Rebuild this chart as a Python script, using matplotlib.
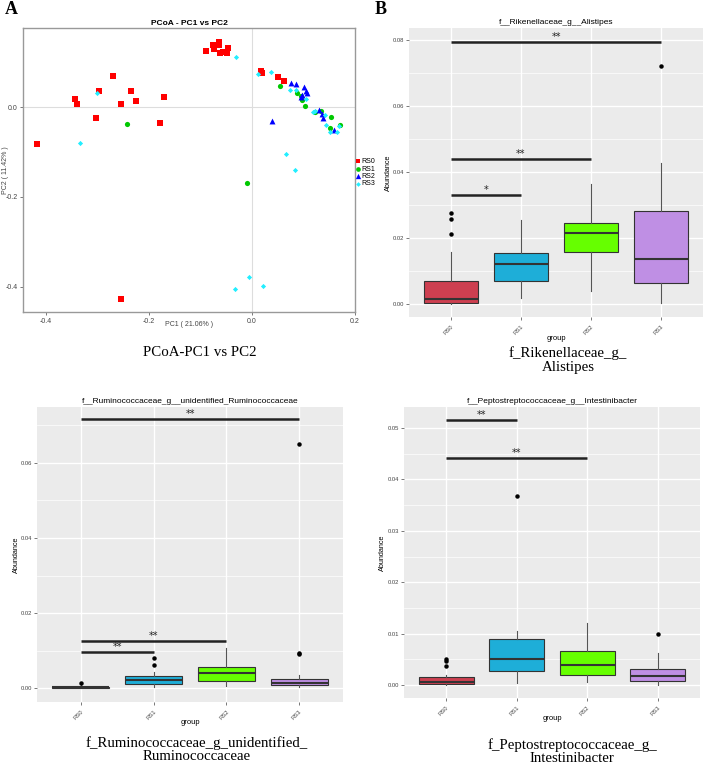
import matplotlib
matplotlib.use("Agg")
import matplotlib.pyplot as plt
import numpy as np

W, H = 708, 764

# ---------------- DATA ----------------
groups = ["RS0", "RS1", "RS2", "RS3"]

# PCoA coordinates (PC1, PC2)
rs0_pc1 = [-0.090, -0.076, -0.074, -0.065, -0.065, -0.063, -0.057, -0.049, -0.046,
           -0.271, -0.297, -0.344, -0.340, -0.254, -0.235, -0.226, -0.172, -0.304,
           -0.178, -0.417, -0.254, 0.017, 0.020, 0.051, 0.062]
rs0_pc2 = [0.124, 0.138, 0.129, 0.145, 0.138, 0.121, 0.123, 0.121, 0.132,
           0.070, 0.035, 0.017, 0.007, 0.007, 0.035, 0.014, 0.023, -0.024,
           -0.036, -0.082, -0.427, 0.081, 0.076, 0.067, 0.058]
rs1_pc1 = [-0.243, 0.055, -0.010, 0.088, 0.097, 0.103, 0.096, 0.123, 0.154, 0.152, 0.170, 0.134]
rs1_pc2 = [-0.038, 0.046, -0.170, 0.032, 0.016, 0.003, 0.025, -0.010, -0.022, -0.046, -0.039, -0.009]
rs2_pc1 = [0.075, 0.085, 0.101, 0.104, 0.106, 0.096, 0.039, 0.131, 0.136, 0.137, 0.159, 0.098]
rs2_pc2 = [0.054, 0.052, 0.044, 0.036, 0.031, 0.023, -0.030, -0.007, -0.016, -0.025, -0.050, 0.026]
rs3_pc1 = [-0.031, 0.012, 0.036, -0.302, -0.335, 0.074, 0.085, 0.104, 0.122, 0.142, 0.144,
           0.152, 0.165, 0.168, 0.065, 0.083, -0.005, -0.033, 0.022, 0.119]
rs3_pc2 = [0.112, 0.073, 0.078, 0.032, -0.081, 0.039, 0.039, 0.017, -0.008, -0.018, -0.040,
           -0.056, -0.056, -0.042, -0.104, -0.140, -0.378, -0.404, -0.398, -0.010]

# Box plot summaries: [whisker low, q1, median, q3, whisker high]
alistipes_box = [[0.0000, 0.0003, 0.0015, 0.0069, 0.0158],
                 [0.0018, 0.0070, 0.0120, 0.0154, 0.0255],
                 [0.0039, 0.0158, 0.0216, 0.0245, 0.0365],
                 [0.0003, 0.0064, 0.0137, 0.0281, 0.0426]]
alistipes_out = [[0.0212, 0.0258, 0.0277], [], [], [0.0722]]
alistipes_sig = [(1, 2, 0.0331, "*"), (1, 3, 0.0439, "**"), (1, 4, 0.0794, "**")]

rumino_box = [[0.0000, 0.00005, 0.0002, 0.0004, 0.0008],
              [0.0002, 0.0012, 0.0022, 0.0031, 0.0043],
              [0.0006, 0.0018, 0.0039, 0.0057, 0.0106],
              [0.0003, 0.0007, 0.0013, 0.0024, 0.0036]]
rumino_out = [[0.0013], [0.0061, 0.0081], [], [0.0090, 0.0093, 0.0650]]
rumino_sig = [(1, 2, 0.0097, "**"), (1, 3, 0.0126, "**"), (1, 4, 0.0716, "**")]

intest_box = [[0.0000, 0.0003, 0.0006, 0.0016, 0.0019],
              [0.0005, 0.0028, 0.0050, 0.0090, 0.0106],
              [0.0006, 0.0019, 0.0040, 0.0066, 0.0120],
              [0.0000, 0.0009, 0.0018, 0.0032, 0.0063]]
intest_out = [[0.0038, 0.0047, 0.0050], [0.0368], [], [0.0100]]
intest_sig = [(1, 2, 0.0515, "**"), (1, 3, 0.0441, "**")]

box_colors = ["#CD3F50", "#1EAED8", "#66FF00", "#BF8FE4"]


def rect(l, t, r, b):
    return [l / W, 1 - b / H, (r - l) / W, (b - t) / H]


fig = plt.figure(figsize=(W / 100, H / 100), dpi=100)
plt.rcParams["font.family"] = ["Liberation Sans", "DejaVu Sans"]

# ---------------- Panel A: PCoA ----------------
axA = fig.add_axes(rect(23, 28, 355, 312))
axA.axhline(0, color="#DDDDDD", lw=0.8, zorder=0)
axA.axvline(0, color="#DDDDDD", lw=0.8, zorder=0)
axA.scatter(rs0_pc1, rs0_pc2, marker="s", s=14, color="#FF0000", lw=0, label="RS0", zorder=3)
axA.scatter(rs1_pc1, rs1_pc2, marker="o", s=14, color="#00C800", lw=0, label="RS1", zorder=3)
axA.scatter(rs2_pc1, rs2_pc2, marker="^", s=18, color="#0000FF", lw=0, label="RS2", zorder=3)
axA.scatter(rs3_pc1, rs3_pc2, marker="D", s=7, color="#22EEFF", lw=0, label="RS3", zorder=4)
axA.set_xlim(-0.445, 0.2)
axA.set_ylim(-0.456, 0.176)
axA.set_xticks([-0.4, -0.2, 0.0, 0.2])
axA.set_xticklabels(["-0.4", "-0.2", "0.0", "0.2"])
axA.set_yticks([-0.4, -0.2, 0.0])
axA.set_yticklabels(["-0.4", "-0.2", "0.0"])
axA.tick_params(labelsize=5, colors="#444444", length=2, width=0.5, pad=2)
for s in axA.spines.values():
    s.set_color("#999999")
    s.set_linewidth(1.0)
axA.set_title("PCoA - PC1 vs PC2", fontsize=6, fontweight="bold", pad=2)
axA.set_xlabel("PC1 ( 21.06% )", fontsize=5, color="#444444")
axA.set_ylabel("PC2 ( 11.42% )", fontsize=5, color="#444444")
axA.xaxis.set_label_coords(0.5, -13 / 284)
axA.yaxis.set_label_coords(-18 / 332, 0.5)
axA.xaxis.label.set_va("center")
axA.yaxis.label.set_va("center")
axA.legend(loc="center left", bbox_to_anchor=(1.0, 0.49), fontsize=5, frameon=False,
           handlelength=0.6, handletextpad=0.2, labelspacing=0.05, borderpad=0,
           borderaxespad=0.1, markerscale=0.9)


def boxpanel(ax, boxes, outs, sig, title, ylim, yticks, xlab_y, ylab_x):
    ax.set_facecolor("#EBEBEB")
    for s in ax.spines.values():
        s.set_visible(False)
    minors = [(a + b) / 2 for a, b in zip(yticks[:-1], yticks[1:])]
    minors.append(yticks[-1] + (yticks[1] - yticks[0]) / 2)
    for m in minors:
        ax.axhline(m, color="white", lw=0.5, zorder=0)
    for t in yticks:
        ax.axhline(t, color="white", lw=1.0, zorder=0)
    for i in range(1, 5):
        ax.axvline(i, color="white", lw=1.0, zorder=0)
    stats = []
    for i, b in enumerate(boxes):
        stats.append(dict(whislo=b[0], q1=b[1], med=b[2], q3=b[3], whishi=b[4],
                          fliers=outs[i], label=groups[i]))
    bp = ax.bxp(stats, positions=[1, 2, 3, 4], widths=0.78, patch_artist=True,
                showcaps=False,
                boxprops=dict(edgecolor="#333333", linewidth=0.8),
                medianprops=dict(color="#333333", linewidth=1.5),
                whiskerprops=dict(color="#555555", linewidth=0.8),
                flierprops=dict(marker="o", markerfacecolor="black", markeredgecolor="black",
                                markersize=2.2))
    for patch, c in zip(bp["boxes"], box_colors):
        patch.set_facecolor(c)
    for a, b, y, lab in sig:
        ax.plot([a, b], [y, y], color="#222222", lw=1.8, solid_capstyle="butt", zorder=5)
        ax.text((a + b) / 2, y, lab, ha="center", va="bottom", fontsize=7,
                family="DejaVu Sans", color="#222222", zorder=6)
    ax.set_xlim(0.4, 4.6)
    ax.set_ylim(*ylim)
    ax.set_yticks(yticks)
    ax.set_yticklabels(["%.2f" % t for t in yticks])
    ax.set_xticks([1, 2, 3, 4])
    ax.set_xticklabels(groups, rotation=45, ha="right", rotation_mode="anchor")
    ax.tick_params(labelsize=4.2, colors="#444444", length=2, width=0.5, pad=1.5)
    ax.tick_params(axis="x", pad=3)
    ax.set_title(title, fontsize=6, pad=3)
    ax.set_xlabel("group", fontsize=5.5)
    ax.set_ylabel("Abundance", fontsize=5.2)
    ax.xaxis.set_label_coords(0.5, xlab_y)
    ax.yaxis.set_label_coords(ylab_x, 0.5)
    ax.xaxis.label.set_va("center")
    ax.yaxis.label.set_va("center")


axB = fig.add_axes(rect(409, 28, 703, 317))
boxpanel(axB, alistipes_box, alistipes_out, alistipes_sig, "f__Rikenellaceae_g__Alistipes",
         (-0.0039, 0.0836), [0.0, 0.02, 0.04, 0.06, 0.08], -21 / 289, -21 / 294)

axC = fig.add_axes(rect(37, 407, 343, 702))
boxpanel(axC, rumino_box, rumino_out, rumino_sig,
         "f__Ruminococcaceae_g__unidentified_Ruminococcaceae",
         (-0.0037, 0.0749), [0.0, 0.02, 0.04, 0.06], -20 / 295, -21 / 306)

axD = fig.add_axes(rect(404, 407, 700, 698))
boxpanel(axD, intest_box, intest_out, intest_sig,
         "f__Peptostreptococcaceae_g__Intestinibacter",
         (-0.0025, 0.0541), [0.0, 0.01, 0.02, 0.03, 0.04, 0.05], -21 / 291, -22 / 296)

# ---------------- captions & panel letters ----------------
serif = ["Liberation Serif", "DejaVu Serif"]
cap = dict(fontsize=10.7, family=serif, ha="center", va="center")
fig.text(5 / W, 1 - 9 / H, "A", fontsize=13, fontweight="bold", family=serif, ha="left", va="center")
fig.text(375 / W, 1 - 9 / H, "B", fontsize=13, fontweight="bold", family=serif, ha="left", va="center")
fig.text(200 / W, 1 - 352 / H, "PCoA-PC1 vs PC2", **cap)
fig.text(568 / W, 1 - 353 / H, "f_Rikenellaceae_g_", **cap)
fig.text(568 / W, 1 - 367 / H, "Alistipes", **cap)
fig.text(197 / W, 1 - 743 / H, "f_Ruminococcaceae_g_unidentified_", **cap)
fig.text(197 / W, 1 - 757 / H, "Ruminococcaceae", **cap)
fig.text(572 / W, 1 - 745 / H, "f_Peptostreptococcaceae_g_", **cap)
fig.text(572 / W, 1 - 758 / H, "Intestinibacter", **cap)

fig.savefig("out.png", dpi=100)
